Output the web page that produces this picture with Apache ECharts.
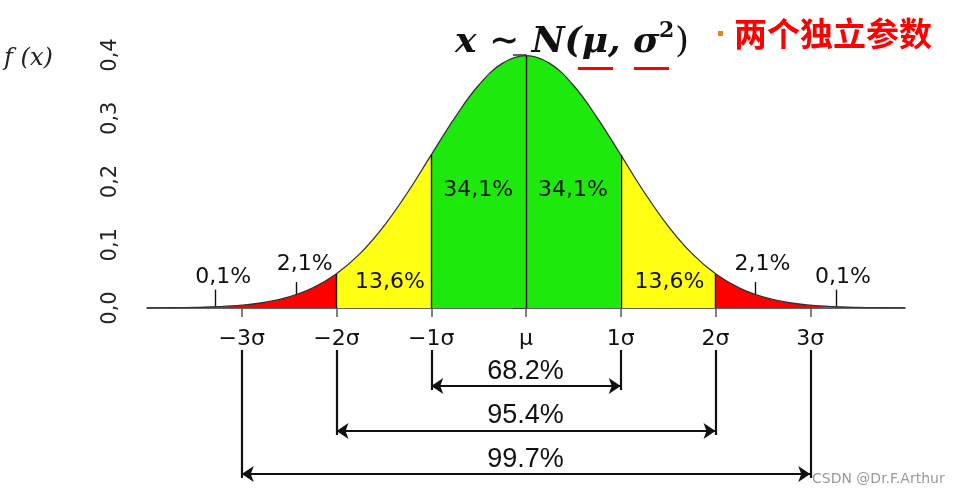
<!DOCTYPE html>
<html>
<head>
<meta charset="utf-8">
<script src="https://cdn.jsdelivr.net/npm/echarts@6/dist/echarts.min.js"></script>
<style>
html, body { margin: 0; padding: 0; background: #fff; }
#chart { width: 968px; height: 495px; }
</style>
</head>
<body>
<div id="chart"></div>
<script>
// density curve, x in units of sigma
const sigmaX = [-4, -3.75, -3.5, -3.25, -3, -2.75, -2.5, -2.25, -2, -1.75, -1.5, -1.25, -1, -0.75, -0.5, -0.25, 0,
  0.25, 0.5, 0.75, 1, 1.25, 1.5, 1.75, 2, 2.25, 2.5, 2.75, 3, 3.25, 3.5, 3.75, 4]
const density = [0.0001, 0.0004, 0.0009, 0.002, 0.0044, 0.0091, 0.0175, 0.0317, 0.054, 0.0863, 0.1295, 0.1826, 0.242,
  0.3011, 0.3521, 0.3867, 0.3989, 0.3867, 0.3521, 0.3011, 0.242, 0.1826, 0.1295, 0.0863, 0.054, 0.0317, 0.0175,
  0.0091, 0.0044, 0.002, 0.0009, 0.0004, 0.0001]

const greenBands = [[-1, 1]]
const yellowBands = [[-2, -1], [1, 2]]
const redBands = [[-3.25, -2], [2, 3.25]]
const dividerX = [-2, -1, 0, 1, 2]

const xTickValues = [-3, -2, -1, 0, 1, 2, 3]
const xTickLabels = ['−3σ', '−2σ', '−1σ', 'μ', '1σ', '2σ', '3σ']

const areaPct = ['0,1%', '2,1%', '13,6%', '34,1%', '34,1%', '13,6%', '2,1%', '0,1%']
const areaPctAt = [[-3.19, 0.047], [-2.33, 0.068], [-1.43, 0.04], [-0.5, 0.186], [0.5, 0.186], [1.52, 0.04], [2.5, 0.068], [3.35, 0.048]]
const pointerX = [-3.28, -2.42, 2.42, 3.27]
const pointerY = [[0.003, 0.029], [0.022, 0.041], [0.022, 0.041], [0.003, 0.029]]

// brackets under the axis
const spanSigma = [1, 2, 3]
const spanPct = ['68.2%', '95.4%', '99.7%']
const spanArrowY = [36, 81, 124]
const spanTextY = [22, 66, 110]

const GREEN = '#1ee90c'
const YELLOW = '#ffff14'
const RED = '#ff0000'
const INK = '#111'

function band (lo, hi) {
  return sigmaX.map((x, i) => [x, density[i]]).filter(p => p[0] >= lo && p[0] <= hi)
}
function densityAt (x) {
  return density[sigmaX.indexOf(x)]
}
function areaSeries (bands, color) {
  return bands.map(b => ({
    type: 'line',
    smooth: 0.4,
    symbol: 'none',
    silent: true,
    z: 1,
    lineStyle: { width: 0 },
    areaStyle: { color: color, opacity: 1 },
    data: band(b[0], b[1])
  }))
}
function centredLabel (size, family) {
  return {
    show: true,
    position: [0, 0],
    align: 'center',
    verticalAlign: 'middle',
    formatter: '{b}',
    fontSize: size,
    fontFamily: family,
    color: INK,
    textBorderWidth: 0
  }
}

const chart = echarts.init(document.getElementById('chart'))

const dividerLines = dividerX.map(x => [{ coord: [x, 0] }, { coord: [x, densityAt(x)] }])
const pointerLines = pointerX.map((x, i) => [{ coord: [x, pointerY[i][0]] }, { coord: [x, pointerY[i][1]] }])

const bracketLines = []
spanSigma.forEach((s, i) => {
  bracketLines.push([{ coord: [-s, 0] }, { coord: [-s, spanArrowY[i] + 4] }])
  bracketLines.push([{ coord: [s, 0] }, { coord: [s, spanArrowY[i] + 4] }])
})
const arrowLines = spanSigma.map((s, i) => [
  { coord: [-s, spanArrowY[i]], symbol: 'arrow' },
  { coord: [s, spanArrowY[i]], symbol: 'arrow' }
])

chart.setOption({
  animation: false,
  grid: [
    { left: 147, right: 63, top: 55, bottom: 187 },
    { left: 147, right: 63, top: 350, bottom: 15 }
  ],
  xAxis: [
    {
      type: 'value',
      min: -4,
      max: 4,
      interval: 1,
      splitLine: { show: false },
      axisLine: { onZero: false, lineStyle: { color: '#333', width: 1.5 } },
      axisTick: { customValues: xTickValues, length: 9, lineStyle: { color: '#555', width: 1.5 } },
      axisLabel: {
        customValues: xTickValues,
        margin: 20,
        fontSize: 22,
        fontFamily: 'DejaVu Sans',
        color: INK,
        formatter: v => xTickLabels[xTickValues.indexOf(v)]
      }
    },
    { gridIndex: 1, type: 'value', min: -4, max: 4, show: false }
  ],
  yAxis: [
    {
      type: 'value',
      min: 0,
      max: 0.4,
      interval: 0.1,
      splitLine: { show: false },
      axisLine: { show: true, lineStyle: { color: '#333', width: 1.5 } },
      axisTick: { show: true, length: 13, lineStyle: { color: '#333', width: 1.5 } },
      axisLabel: {
        rotate: 90,
        margin: 26,
        fontSize: 21,
        fontFamily: 'DejaVu Sans',
        color: '#222',
        formatter: v => v.toFixed(1).replace('.', ',')
      }
    },
    { gridIndex: 1, type: 'value', min: 0, max: 130, inverse: true, show: false }
  ],
  graphic: [
    { type: 'text', left: 4, top: 47, style: { text: 'f (x)', font: 'italic 24px "DejaVu Serif"', fill: '#222' } },
    { type: 'text', left: 455, top: 25, style: { text: 'x ∼ N(μ, σ', font: 'bold italic 36px "DejaVu Serif"', fill: '#111' } },
    { type: 'text', left: 659, top: 20, style: { text: '2', font: 'bold 22px "DejaVu Serif"', fill: '#111' } },
    { type: 'text', left: 675, top: 25, style: { text: ')', font: '36px "DejaVu Serif"', fill: '#111' } },
    { type: 'rect', shape: { x: 578, y: 67, width: 35, height: 3 }, style: { fill: RED } },
    { type: 'rect', shape: { x: 634, y: 67, width: 35, height: 3 }, style: { fill: RED } },
    { type: 'rect', shape: { x: 718, y: 31, width: 5, height: 5 }, style: { fill: '#e8861a' } },
    { type: 'text', left: 734, top: 17, style: { text: '两个独立参数', font: 'bold 33px "Noto Sans CJK SC"', fill: RED } },
    { type: 'text', left: 812, top: 472, style: { text: 'CSDN @Dr.F.Arthur', font: '14px "DejaVu Sans"', fill: '#999' } }
  ],
  series: [
    ...areaSeries(greenBands, GREEN),
    ...areaSeries(yellowBands, YELLOW),
    ...areaSeries(redBands, RED),
    {
      type: 'line',
      smooth: 0.4,
      symbol: 'none',
      silent: true,
      z: 3,
      lineStyle: { color: '#333', width: 1.3 },
      data: sigmaX.map((x, i) => [x, density[i]]),
      markLine: {
        silent: true,
        symbol: ['none', 'none'],
        label: { show: false },
        lineStyle: { color: INK, width: 1.4, type: 'solid' },
        data: dividerLines.concat(pointerLines)
      }
    },
    {
      type: 'scatter',
      symbolSize: 1,
      silent: true,
      z: 4,
      itemStyle: { color: 'rgba(0,0,0,0)', opacity: 1 },
      label: centredLabel(22, 'DejaVu Sans'),
      data: areaPct.map((t, i) => ({ name: t, value: areaPctAt[i] }))
    },
    {
      type: 'scatter',
      xAxisIndex: 1,
      yAxisIndex: 1,
      symbolSize: 1,
      silent: true,
      itemStyle: { color: 'rgba(0,0,0,0)', opacity: 1 },
      label: centredLabel(27, 'Liberation Sans'),
      data: spanPct.map((t, i) => ({ name: t, value: [0, spanTextY[i]] })),
      markLine: {
        silent: true,
        symbol: ['none', 'none'],
        symbolSize: 12,
        label: { show: false },
        lineStyle: { color: '#111', width: 2.2, type: 'solid' },
        data: bracketLines.concat(arrowLines)
      }
    }
  ]
})
</script>
</body>
</html>
